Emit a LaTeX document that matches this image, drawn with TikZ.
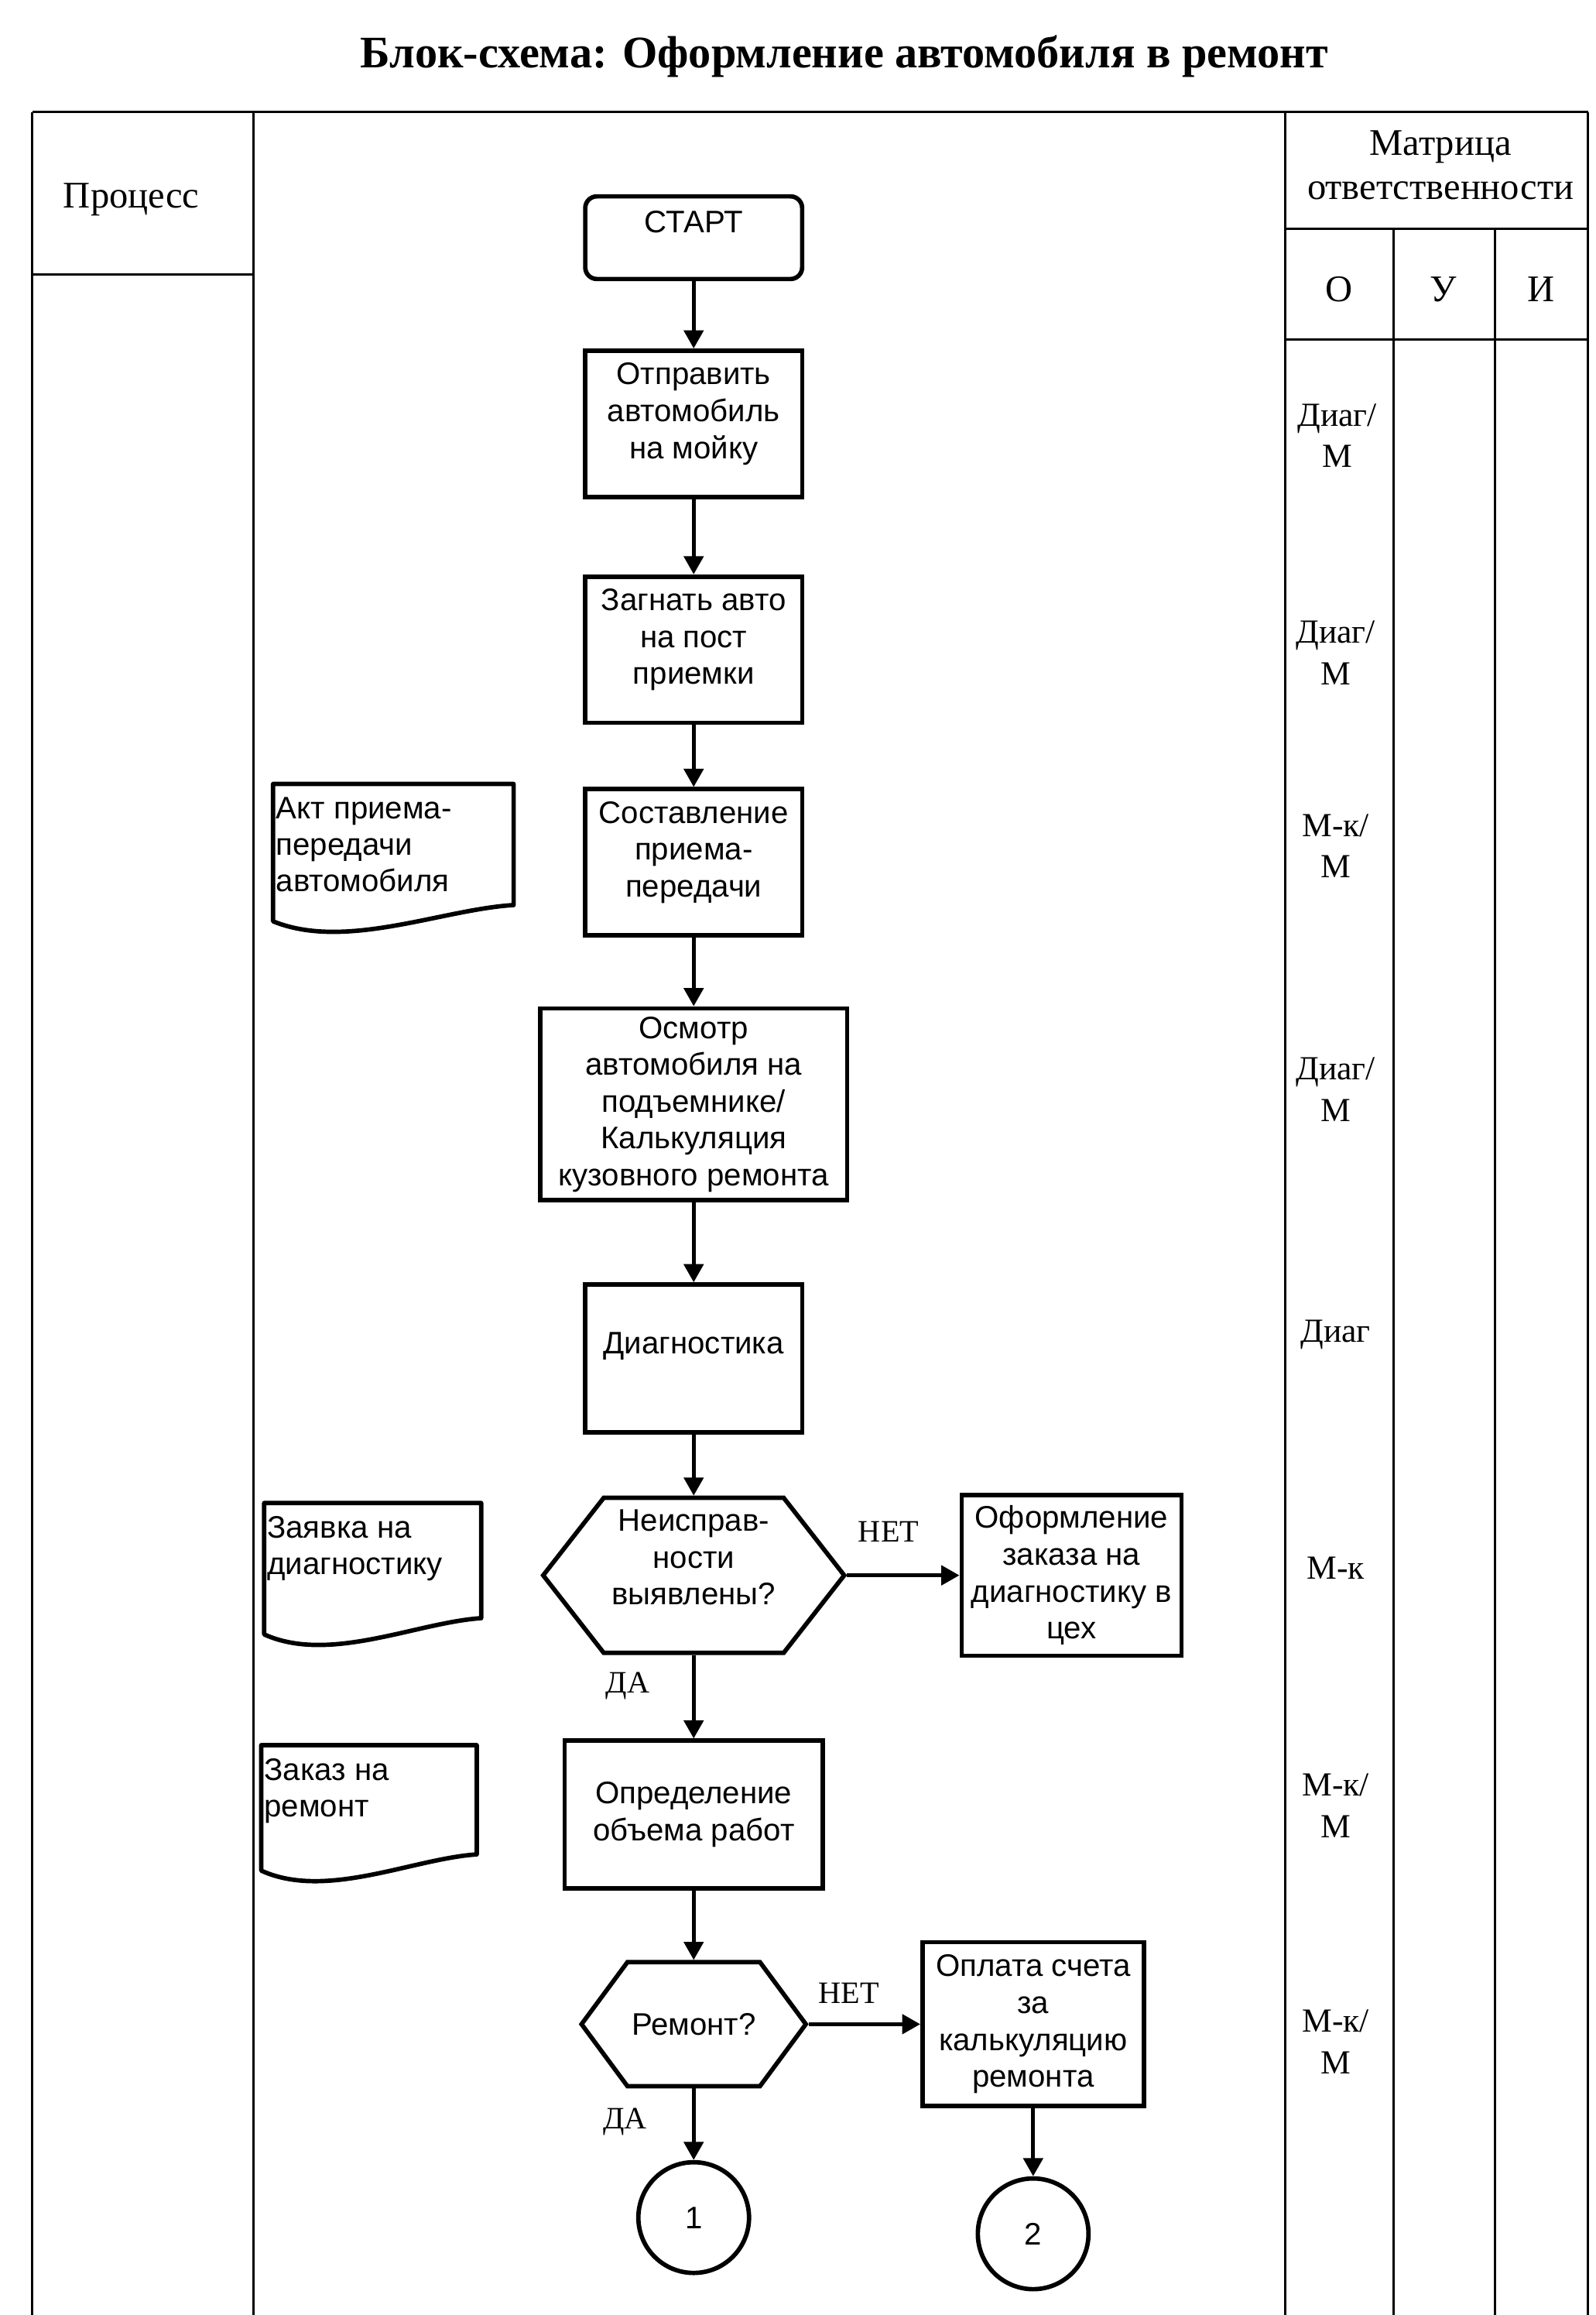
\documentclass[tikz,border=0pt]{standalone}
\usepackage{fontspec}
\setmainfont{Liberation Serif}
\setsansfont{Liberation Sans}
\usetikzlibrary{arrows.meta, shapes.geometric, shapes.symbols, positioning, calc}

\begin{document}
\begin{tikzpicture}[
    x=0.02cm, y=-0.02cm,
    frame/.style={line width=0.9pt},
    box/.style={draw, rectangle, line width=1.7pt, align=center, inner sep=1pt,
      minimum width=2.94cm, minimum height=1.98cm, font=\sffamily\fontsize{12}{14.2}\selectfont},
    term/.style={box, rounded corners=4.5pt, minimum height=1.12cm, text depth=12pt},
    hexa/.style={box, signal, signal to=east and west},
    conn/.style={draw, circle, line width=1.7pt, minimum size=1.5cm, inner sep=0pt, font=\sffamily\fontsize{12}{14}\selectfont},
    doc/.style={anchor=north west, align=left, inner xsep=1pt, inner ysep=5pt, font=\sffamily\fontsize{12}{14}\selectfont},
    docline/.style={line width=1.7pt, line join=round},
    arr/.style={-{Triangle[length=7pt, width=7.5pt]}, line width=1.4pt},
    lbl/.style={font=\fontsize{12}{14}\selectfont},
    head/.style={align=center, font=\fontsize{14.5}{17}\selectfont},
    mtx/.style={align=center, font=\fontsize{13}{16}\selectfont}
  ]
  \useasboundingbox (0,0) rectangle (1081,1568);

  % Title
  \node[font=\bfseries\fontsize{17.4}{20}\selectfont] (title) at (572,38) {Блок-схема: Оформление автомобиля в ремонт};

  % Table frame
  \draw[frame] (22,76) -- (1076,76);
  \draw[frame] (22,76) -- (22,1568);
  \draw[frame] (172,76) -- (172,1568);
  \draw[frame] (22,186) -- (172,186);
  \draw[frame] (871,76) -- (871,1568);
  \draw[frame] (1076,76) -- (1076,1568);
  \draw[frame] (871,155) -- (1076,155);
  \draw[frame] (871,230) -- (1076,230);
  \draw[frame] (944,155) -- (944,1568);
  \draw[frame] (1013,155) -- (1013,1568);

  % Headers
  \node[head] (proc) at (89,135) {Процесс};
  \node[head] (matr) at (976,112) {Матрица\\ответственности};
  \node[head] (colO) at (907,196) {О};
  \node[head] (colU) at (978,196) {У};
  \node[head] (colI) at (1044,196) {И};

  % Flow
  \node[term] (start) at (470,161) {СТАРТ};
  \node[box, text depth=10pt] (wash) at (470,287) {Отправить\\автомобиль\\на мойку};
  \node[box, text depth=10pt] (post) at (470,440) {Загнать авто\\на пост\\приемки};
  \node[box, text depth=10pt] (act) at (470,584) {Составление\\приема-\\передачи};
  \node[box, minimum width=4.16cm, minimum height=2.6cm] (lift) at (470,748) {Осмотр\\автомобиля на\\подъемнике/\\Калькуляция\\кузовного ремонта};
  \node[box, minimum height=2cm, text depth=12pt] (diag) at (470,920) {Диагностика};
  \node[hexa, minimum width=4.08cm, minimum height=2.1cm, signal pointer angle=104, text depth=14pt] (fault) at (470,1067) {Неисправ-\\ности\\выявлены?};
  \node[box, minimum width=2.98cm, minimum height=2.18cm] (order) at (726,1067) {Оформление\\заказа на\\диагностику в\\цех};
  \node[box, minimum width=3.5cm, minimum height=2cm] (scope) at (470,1229) {Определение\\объема работ};
  \node[hexa, minimum width=3.04cm, minimum height=1.68cm, signal pointer angle=107] (repair) at (470,1371) {Ремонт?};
  \node[box, minimum width=3cm, minimum height=2.22cm] (pay) at (700,1371) {Оплата счета\\за\\калькуляцию\\ремонта};
  \node[conn] (c1) at (470,1502) {1};
  \node[conn] (c2) at (700,1513) {2};

  % Documents
  \node[doc] (akt) at (185,531) {Акт приема-\\передачи\\автомобиля};
  \node[doc] (zayavka) at (179,1018) {Заявка на\\диагностику};
  \node[doc] (zakaz) at (177,1182) {Заказ на\\ремонт};
  \foreach \d/\w/\h in {akt/163/99, zayavka/147/95, zakaz/146/91} {
    \draw[docline] ($(\d.north west)+(0,\h-6)$) -- (\d.north west) -- ($(\d.north west)+(\w,0)$)
      -- ($(\d.north west)+(\w,\h-17)$)
      .. controls ($(\d.north west)+(0.7*\w,\h-14)$) and ($(\d.north west)+(0.3*\w,\h+14)$) .. ($(\d.north west)+(0,\h-6)$) -- cycle;
  }

  % Arrows
  \foreach \a/\b in {start/wash, wash/post, post/act, act/lift, lift/diag, diag/fault, scope/repair, pay/c2}
    \draw[arr] (\a.south) -- (\b.north);
  \draw[arr] (fault.east) -- node[lbl, above=9pt, pos=0.37] (no1) {НЕТ} (order.west);
  \draw[arr] (fault.south) -- node[lbl, left=13pt, pos=0.37] (yes1) {ДА} (scope.north);
  \draw[arr] (repair.east) -- node[lbl, above=4pt, pos=0.36] (no2) {НЕТ} (pay.west);
  \draw[arr] (repair.south) -- node[lbl, left=14pt, pos=0.47] (yes2) {ДА} (c1.north);

  % Responsibility
  \node[mtx] (r1) at (906,295) {Диаг/\\М};
  \node[mtx] (r2) at (905,442) {Диаг/\\М};
  \node[mtx] (r3) at (905,573) {М-к/\\М};
  \node[mtx] (r4) at (905,738) {Диаг/\\М};
  \node[mtx] (r5) at (905,904) {Диаг};
  \node[mtx] (r6) at (905,1062) {М-к};
  \node[mtx] (r7) at (905,1223) {М-к/\\М};
  \node[mtx] (r8) at (905,1383) {М-к/\\М};
\end{tikzpicture}
\end{document}
